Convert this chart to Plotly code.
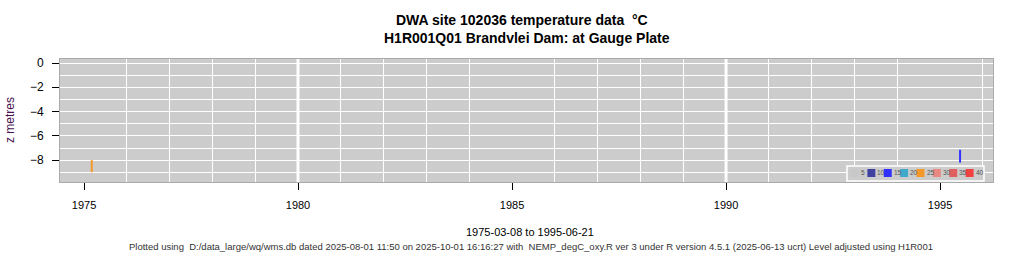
import plotly.graph_objects as go

# ---- data ----
sample_dates = ["1975-03-08", "1995-06-21"]
z_top = [-8.0, -7.15]
z_bottom = [-9.0, -8.2]
temperature = [24.0, 14.0]

legend_levels = [5, 10, 15, 20, 25, 30, 35, 40]
legend_colors = ["#C8C8C8", "#4040A0", "#3030FF", "#40A8C8", "#F59828", "#E88880", "#E06060", "#F04040"]

x_range = ["1974-06-10", "1996-03-28"]
y_range = [-9.8, 0.33]
decade_lines = ["1980-01-01", "1990-01-01"]

title_line1 = "DWA site 102036 temperature data  °C"
title_line2 = "H1R001Q01 Brandvlei Dam: at Gauge Plate"
y_title = "z metres"
x_title = "1975-03-08 to 1995-06-21"
footer = ("Plotted using  D:/data_large/wq/wms.db dated 2025-08-01 11:50 on 2025-10-01 16:16:27 with  "
          "NEMP_degC_oxy.R ver 3 under R version 4.5.1 (2025-06-13 ucrt) Level adjusted using H1R001")


def color_for(t):
    for lvl, c in zip(legend_levels, legend_colors):
        if t <= lvl:
            return c
    return legend_colors[-1]


fig = go.Figure()
for d, zt, zb, t in zip(sample_dates, z_top, z_bottom, temperature):
    fig.add_trace(go.Scatter(x=[d, d], y=[zt, zb], mode="lines",
                             line=dict(color=color_for(t), width=2),
                             showlegend=False, hoverinfo="skip"))

shapes = []
for d in decade_lines:
    shapes.append(dict(type="line", xref="x", yref="paper", x0=d, x1=d, y0=0, y1=1,
                       line=dict(color="white", width=3), layer="below"))

# colour key box (paper coordinates)
L, R, T, B = 60, 993, 59, 182
W, H = R - L, B - T
def px(x):
    return (x - L) / W
def py(y):
    return (B - y) / H

bx0, bx1, by0, by1 = 847, 984, 166, 181
shapes.append(dict(type="rect", xref="paper", yref="paper", x0=px(bx0), x1=px(bx1),
                   y0=py(by1), y1=py(by0), line=dict(color="white", width=1.5),
                   fillcolor="#CCCCCC", layer="above"))
annotations = []
step = (bx1 - bx0 - 6) / len(legend_levels)
for i, (lvl, c) in enumerate(zip(legend_levels, legend_colors)):
    sx = bx0 + 4 + i * step
    shapes.append(dict(type="rect", xref="paper", yref="paper", x0=px(sx), x1=px(sx + 8),
                       y0=py(177), y1=py(169), line=dict(width=0), fillcolor=c, layer="above"))
    annotations.append(dict(xref="paper", yref="paper", x=px(sx + 8), y=py(178),
                            text=str(lvl), showarrow=False, xanchor="left", yanchor="bottom",
                            font=dict(size=6.5, color="#555555")))

annotations.append(dict(xref="paper", yref="paper", x=px(530), y=py(232), text=x_title,
                        showarrow=False, xanchor="center", yanchor="middle",
                        font=dict(size=11, color="black")))
annotations.append(dict(xref="paper", yref="paper", x=px(531), y=py(246), text=footer,
                        showarrow=False, xanchor="center", yanchor="middle",
                        font=dict(size=9.5, color="#333333")))
annotations.append(dict(xref="paper", yref="paper", x=px(522), y=py(20),
                        text="<b>" + title_line1 + "</b>", showarrow=False,
                        xanchor="center", yanchor="middle", font=dict(size=14, color="black")))
annotations.append(dict(xref="paper", yref="paper", x=px(527), y=py(38),
                        text="<b>" + title_line2 + "</b>", showarrow=False,
                        xanchor="center", yanchor="middle", font=dict(size=14, color="black")))
annotations.append(dict(xref="paper", yref="paper", x=px(10), y=py(120), text=y_title,
                        textangle=-90, showarrow=False, xanchor="center", yanchor="middle",
                        font=dict(size=12, color="#4A1050")))

fig.update_layout(
    width=1024, height=256,
    margin=dict(l=L, r=1024 - R, t=T, b=256 - B),
    paper_bgcolor="white", plot_bgcolor="#CCCCCC",
    font=dict(family="Liberation Sans, Arial, sans-serif", size=11, color="black"),
    shapes=shapes, annotations=annotations, showlegend=False,
    xaxis=dict(type="date", range=x_range, tick0="1975-01-01", dtick="M60", tickformat="%Y",
               showgrid=False, ticks="outside", ticklen=7, tickcolor="black",
               tickfont=dict(size=11), zeroline=False, ticklabelstandoff=6,
               showline=True, mirror=True, linecolor="#AAAAAA", linewidth=1,
               minor=dict(dtick="M12", tick0="1975-01-01", showgrid=True,
                          gridcolor="white", gridwidth=1, ticks="")),
    yaxis=dict(range=y_range, tick0=0, dtick=2, showgrid=True, gridcolor="white", gridwidth=1,
               ticks="outside", ticklen=7, tickcolor="black", zeroline=False,
               tickfont=dict(size=12), ticklabelstandoff=6,
               showline=True, mirror=True, linecolor="#AAAAAA", linewidth=1,
               minor=dict(dtick=1, showgrid=True, gridcolor="white", gridwidth=1, ticks="")),
)

fig.write_html("out.html")
